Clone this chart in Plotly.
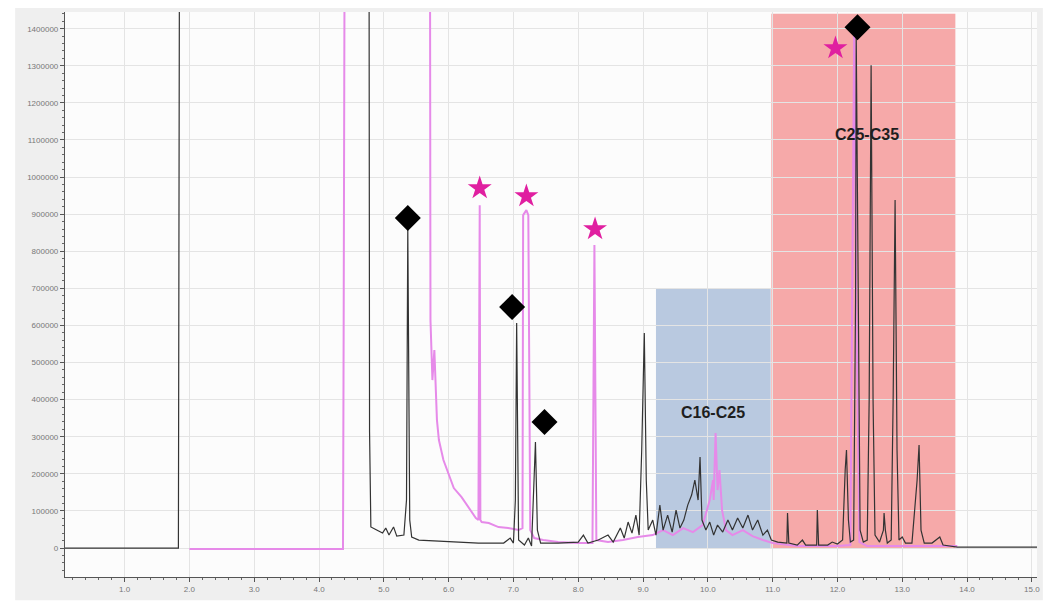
import plotly.graph_objects as go

# ---- data (retention time in min, intensity in counts) ----
black_t = [0.08, 1.83, 1.85, 4.77, 4.78, 4.80, 4.89, 4.98, 5.03, 5.08, 5.15, 5.20, 5.31, 5.35, 5.37, 5.40, 5.43, 5.54,
           5.85, 6.46, 6.85, 6.95, 7.00, 7.03, 7.05, 7.08, 7.17, 7.23, 7.28, 7.31, 7.34, 7.37, 7.42, 7.69, 8.00, 8.08,
           8.15, 8.31, 8.46, 8.54, 8.65, 8.71, 8.77, 8.83, 8.89, 8.94, 8.98, 9.02, 9.05, 9.08, 9.15, 9.20, 9.26, 9.31,
           9.38, 9.45, 9.51, 9.57, 9.63, 9.69, 9.75, 9.80, 9.85, 9.88, 9.91, 9.97, 10.03, 10.09, 10.15, 10.23, 10.31,
           10.38, 10.46, 10.54, 10.62, 10.69, 10.77, 10.85, 10.92, 10.98, 11.08, 11.22, 11.23, 11.25, 11.38, 11.46,
           11.51, 11.62, 11.68, 11.69, 11.71, 11.85, 11.92, 12.00, 12.08, 12.12, 12.14, 12.17, 12.20, 12.25, 12.28,
           12.29, 12.32, 12.35, 12.40, 12.46, 12.49, 12.52, 12.55, 12.58, 12.65, 12.71, 12.72, 12.74, 12.77, 12.83,
           12.86, 12.89, 12.92, 12.95, 13.00, 13.05, 13.15, 13.23, 13.26, 13.29, 13.34, 13.46, 13.58, 13.63, 13.85,
           15.08]
black_v = [0, 0, 2000000, 2000000, 313000, 57000, 48500, 40400, 53900, 35000, 57000, 32300, 35000, 129400, 862400,
           75500, 29600, 21600, 18900, 13500, 13500, 27000, 13500, 129400, 606400, 21600, 8100, 27000, 5400, 129400,
           285700, 48500, 13500, 13500, 16200, 35000, 13500, 21600, 35000, 16200, 53900, 27000, 70100, 40400, 88900,
           35000, 264100, 579500, 183300, 48500, 75500, 35000, 115900, 48500, 88900, 43100, 102400, 53900, 75500,
           115900, 142800, 183300, 129400, 245300, 75500, 48500, 70100, 35000, 62000, 43100, 75500, 48500, 80900,
           53900, 88900, 48500, 75500, 35000, 48500, 21600, 16200, 13500, 94300, 13500, 8100, 21600, 8100, 8100,
           8100, 102400, 8100, 8100, 16200, 10800, 21600, 210200, 264100, 75500, 16200, 21600, 668400, 1382600,
           668400, 48500, 16200, 21600, 398900, 1301700, 398900, 35000, 16200, 48500, 94300, 48500, 13500, 21600,
           398900, 937900, 264100, 21600, 29600, 13500, 13500, 183300, 277600, 48500, 13500, 13500, 29600, 8100,
           2700, 2700]

pink_t = [2.00, 4.37, 4.38, 4.40, 5.71, 5.72, 5.75, 5.78, 5.82, 5.85, 5.92, 6.00, 6.08, 6.20, 6.31, 6.42, 6.46, 6.48,
          6.49, 6.51, 6.62, 6.77, 6.92, 7.08, 7.14, 7.15, 7.20, 7.23, 7.26, 7.32, 7.46, 7.69, 8.00, 8.22, 8.25, 8.28,
          8.46, 8.69, 8.92, 9.15, 9.31, 9.46, 9.62, 9.77, 9.92, 10.03, 10.08, 10.09, 10.12, 10.15, 10.18, 10.22,
          10.28, 10.38, 10.54, 10.69, 10.85, 11.00, 11.38, 12.00, 12.20, 12.23, 12.26, 12.29, 12.34, 12.46, 13.85]
pink_v = [-2700, -2700, 574100, 2000000, 2000000, 614500, 452800, 533600, 345000, 291100, 237200, 196700, 161700,
          137400, 107800, 80900, 75500, 924400, 75500, 70100, 67400, 56600, 53900, 48500, 53900, 897400, 910900,
          897400, 48500, 27000, 21600, 16200, 13500, 13500, 816600, 21600, 16200, 21600, 29600, 35000, 48500, 35000,
          53900, 43100, 62000, 129400, 183300, 129400, 310000, 156300, 210200, 102400, 48500, 35000, 48500, 32300,
          21600, 13500, 5400, 5400, 8100, 668400, 1420000, 668400, 16200, 5400, 5400]

diamond_t = [5.37, 6.98, 7.48, 12.31]
diamond_v = [889400, 649500, 339600, 1404100]
star_t = [6.48, 7.20, 8.26, 11.97]
star_v = [970200, 948600, 859700, 1347500]

region_labels = ["C16-C25", "C25-C35"]
region_t0 = [9.20, 10.98]
region_t1 = [10.97, 13.82]
region_top = [700000, 1440000]
label_t = [10.08, 12.45]
label_v = [366000, 1116000]

x_ticks = [1.0 + i for i in range(15)]
y_ticks = [i * 100000 for i in range(15)]

fig = go.Figure()

fig.add_trace(go.Scatter(x=pink_t, y=pink_v, mode="lines",
                         line=dict(color="#e68ae9", width=2), showlegend=False, hoverinfo="skip"))
fig.add_trace(go.Scatter(x=black_t, y=black_v, mode="lines",
                         line=dict(color="#333333", width=1.2), showlegend=False, hoverinfo="skip"))
fig.add_trace(go.Scatter(x=diamond_t, y=diamond_v, mode="markers",
                         marker=dict(symbol="diamond", size=20, color="black"), showlegend=False))
fig.add_trace(go.Scatter(x=star_t, y=star_v, mode="markers",
                         marker=dict(symbol="star", size=18, color="#e01fa0"), showlegend=False))

shapes = [
    # gray panel behind axes and white plot area
    dict(type="rect", xref="paper", yref="paper", x0=-0.0513, x1=1.006, y0=-0.041, y1=1.007,
         fillcolor="#efefef", line_width=0, layer="below"),
    dict(type="rect", xref="paper", yref="paper", x0=0, x1=1, y0=0, y1=1,
         fillcolor="#fcfcfc", line_width=0, layer="below"),
]
fills = ["rgba(160,182,214,0.72)", "rgba(240,100,100,0.55)"]
for i in range(len(region_labels)):
    shapes.append(dict(type="rect", xref="x", yref="y", x0=region_t0[i], x1=region_t1[i], y0=-2700,
                       y1=region_top[i], fillcolor=fills[i], line_width=0, layer="below"))

annotations = [dict(x=label_t[i], y=label_v[i], xref="x", yref="y", text="<b>%s</b>" % region_labels[i],
                    showarrow=False, font=dict(family="Liberation Sans, Arial", size=16, color="#1e1e1e"))
               for i in range(len(region_labels))]

fig.update_layout(
    width=1045, height=605,
    margin=dict(l=65, r=5, t=12, b=28),
    paper_bgcolor="white", plot_bgcolor="rgba(0,0,0,0)",
    shapes=shapes, annotations=annotations,
    font=dict(family="Liberation Sans, Arial", size=8, color="#777"),
)
fig.update_xaxes(range=[0.08, 15.08], tickvals=x_ticks, ticktext=["%.1f" % v for v in x_ticks],
                 showgrid=True, gridcolor="#e4e4e4", gridwidth=1, zeroline=False,
                 showline=True, linecolor="#555", linewidth=1.2,
                 ticks="outside", ticklen=4, tickcolor="#555",
                 minor=dict(dtick=0.2, ticks="outside", ticklen=2, tickcolor="#666", showgrid=False))
fig.update_yaxes(range=[-78000, 1445000], tickvals=y_ticks, ticktext=[str(v) for v in y_ticks],
                 showgrid=True, gridcolor="#e4e4e4", gridwidth=1, zeroline=False,
                 showline=True, linecolor="#555", linewidth=1.2,
                 ticks="outside", ticklen=4, tickcolor="#555",
                 minor=dict(dtick=20000, ticks="outside", ticklen=2, tickcolor="#666", showgrid=False))

fig.write_html("out.html")
